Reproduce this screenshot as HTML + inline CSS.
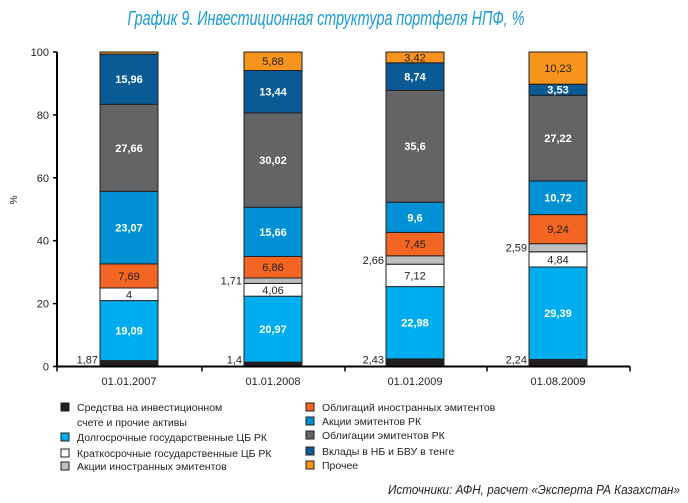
<!DOCTYPE html>
<html><head><meta charset="utf-8">
<style>
html,body{margin:0;padding:0;background:#fff;}
svg{display:block;font-family:"Liberation Sans Narrow","Liberation Sans",sans-serif;}
</style></head>
<body>
<svg id="c" width="688" height="503" viewBox="0 0 688 503" xmlns="http://www.w3.org/2000/svg">
<text x="326" y="25" text-anchor="middle" font-size="20" font-style="italic" fill="#1a9ad6" textLength="397" lengthAdjust="spacingAndGlyphs">График 9. Инвестиционная структура портфеля НПФ, %</text>
<text transform="translate(17,200) rotate(-90)" font-size="10" text-anchor="middle" fill="#231f20">%</text>
<g id="g"></g>
<text x="680" y="494" text-anchor="end" font-size="13" font-style="italic" fill="#231f20" textLength="292" lengthAdjust="spacingAndGlyphs">Источники: АФН, расчет «Эксперта РА Казахстан»</text>
</svg>
<script>
var g=document.getElementById('g'),s='';
var y0=366.5,k=3.145,ax=57,axEnd=630;
var cols=['#231f20','#00aeef','#ffffff','#bcbec0','#f26522','#0090d4','#636466','#0a5a96','#f7941d'];
var tc=['#231f20','#fff','#231f20','#231f20','#231f20','#fff','#fff','#fff','#231f20'];
var data=[[1.87,19.09,4,0,7.69,23.07,27.66,15.96,0.66],
[1.4,20.97,4.06,1.71,6.86,15.66,30.02,13.44,5.88],
[2.43,22.98,7.12,2.66,7.45,9.6,35.6,8.74,3.42],
[2.24,29.39,4.84,2.59,9.24,10.72,27.22,3.53,10.23]];
var lbl=[["1,87","19,09","4","","7,69","23,07","27,66","15,96",""],
["1,4","20,97","4,06","1,71","6,86","15,66","30,02","13,44","5,88"],
["2,43","22,98","7,12","2,66","7,45","9,6","35,6","8,74","3,42"],
["2,24","29,39","4,84","2,59","9,24","10,72","27,22","3,53","10,23"]];
var xs=[100,244,386,529],bw=58,dates=["01.01.2007","01.01.2008","01.01.2009","01.08.2009"];
for(var b=0;b<4;b++){var cum=0;
 for(var i=0;i<9;i++){var v=data[b][i];if(v<=0)continue;
  var yt=y0-(cum+v)*k,h=v*k;
  s+='<rect x="'+xs[b]+'" y="'+yt.toFixed(1)+'" width="'+bw+'" height="'+h.toFixed(1)+'" fill="'+cols[i]+'" stroke="#231f20" stroke-width="1"/>';
  var L=lbl[b][i];
  if(L){var cy=yt+h/2+4;
   if(i==0||i==3){s+='<text x="'+(xs[b]-2)+'" y="'+(i==0?y0-3:cy)+'" text-anchor="end" font-size="11" fill="#231f20">'+L+'</text>';}
   else{var bold=(tc[i]=='#fff')?' font-weight="bold"':'';
    s+='<text x="'+(xs[b]+bw/2)+'" y="'+cy.toFixed(1)+'" text-anchor="middle" font-size="11"'+bold+' fill="'+tc[i]+'">'+L+'</text>';}}
  cum+=v;}
 s+='<text x="'+(xs[b]+bw/2)+'" y="385" text-anchor="middle" font-size="11" fill="#231f20">'+dates[b]+'</text>';
}
s+='<line x1="'+ax+'" y1="52" x2="'+ax+'" y2="'+y0+'" stroke="#000" stroke-width="2"/>';
s+='<line x1="'+ax+'" y1="'+y0+'" x2="'+axEnd+'" y2="'+y0+'" stroke="#000" stroke-width="2"/>';
for(var t=0;t<=100;t+=20){var y=y0-t*k;
 s+='<line x1="'+(ax-4)+'" y1="'+y+'" x2="'+ax+'" y2="'+y+'" stroke="#000" stroke-width="1.5"/>';
 s+='<text x="'+(ax-8)+'" y="'+(y+4)+'" text-anchor="end" font-size="11" fill="#231f20">'+t+'</text>';}
[57,202,345,487,630].forEach(function(x){s+='<line x1="'+x+'" y1="'+y0+'" x2="'+x+'" y2="'+(y0+5)+'" stroke="#000" stroke-width="1.5"/>';});
var L1=[[0,411,"Средства на инвестиционном"],[-1,426,"счете и прочие активы"],[1,441,"Долгосрочные государственные ЦБ РК"],[2,457,"Краткосрочные государственные ЦБ РК"],[3,470,"Акции иностранных эмитентов"]];
var L2=[[4,411,"Облигаций иностранных эмитентов"],[5,425,"Акции эмитентов РК"],[6,439,"Облигации эмитентов РК"],[7,455,"Вклады в НБ и БВУ в тенге"],[8,469,"Прочее"]];
function leg(arr,x){arr.forEach(function(r){if(r[0]>=0)s+='<rect x="'+x+'" y="'+(r[1]-8)+'" width="8" height="8" fill="'+cols[r[0]]+'" stroke="#231f20" stroke-width="1"/>';
 s+='<text x="'+(x+16)+'" y="'+r[1]+'" font-size="10.5" fill="#231f20">'+r[2]+'</text>';});}
leg(L1,61);leg(L2,306);
g.innerHTML=s;
</script>
</body></html>
